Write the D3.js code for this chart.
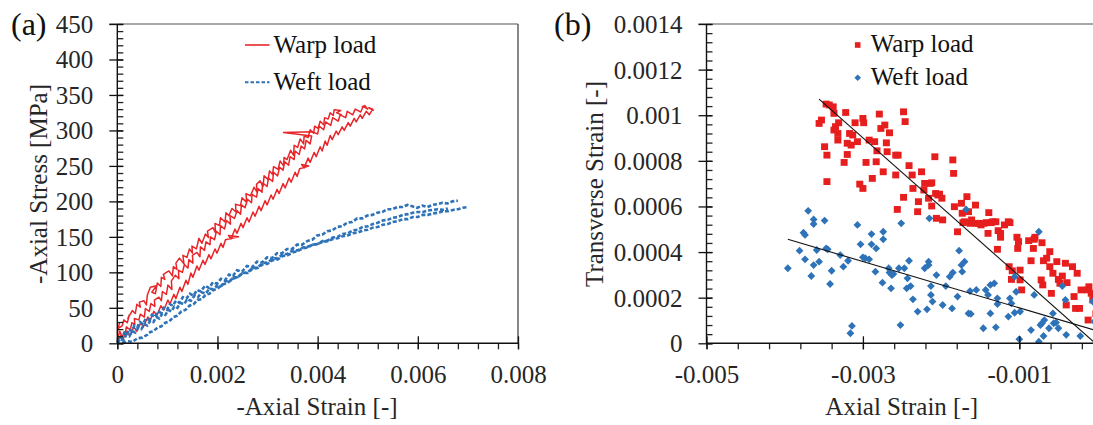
<!DOCTYPE html>
<html><head><meta charset="utf-8">
<script src="https://cdn.jsdelivr.net/npm/d3@7"></script>
<style>
html,body{margin:0;padding:0;background:#fff;}
svg{display:block;}
svg text{font-family:'Liberation Serif','Times New Roman',serif !important;}
</style></head><body>
<svg id="c" width="1093" height="425"></svg>
<script>
// ---------------- DATA ----------------
// Panel (a): -axial strain [-], -axial stress [MPa]
const warpCurve1 = [[0,14],[0.4e-4,28],[0.2e-4,21],[1.0e-4,25],[1.3e-4,33],[2.0e-4,29],[2.4e-4,40],[2.1e-4,35],[3.0e-4,46],[3.6e-4,42],[3.9e-4,55],[4.6e-4,51],[4.4e-4,58],[5.3e-4,60],[5.8e-4,54],[6.0e-4,68],[6.6e-4,79],[7.8e-4,81],[6.9e-4,72],[7.6e-4,70],[8.0e-4,85],[8.7e-4,80],[8.8e-4,93],[9.5e-4,90],[9.2e-4,97],[10.3e-4,102],[11.0e-4,95],[11.2e-4,108],[11.9e-4,104],[11.7e-4,113],[12.4e-4,120],[13.3e-4,112],[13.1e-4,124],[13.9e-4,121],[14.4e-4,133],[15.0e-4,127],[14.9e-4,137],[15.8e-4,133],[16.3e-4,148],[16.9e-4,141],[17.6e-4,154],[18.2e-4,149],[18.0e-4,158],[19.1e-4,163],[19.6e-4,156],[19.5e-4,169],[20.4e-4,166],[20.6e-4,177],[21.5e-4,171],[21.7e-4,184],[22.3e-4,180],[22.9e-4,190],[23.7e-4,185],[23.6e-4,196],[24.6e-4,194],[24.9e-4,205],[25.8e-4,199],[25.7e-4,211],[26.6e-4,208],[27.3e-4,220],[27.9e-4,213],[27.8e-4,224],[28.5e-4,229],[29.1e-4,221],[29.3e-4,236],[30.1e-4,231],[30.4e-4,243],[31.0e-4,238],[31.2e-4,249],[32.1e-4,245],[32.5e-4,257],[33.2e-4,250],[33.3e-4,262],[33.9e-4,259],[34.6e-4,272],[35.2e-4,265],[35.3e-4,279],[36.0e-4,276],[36.5e-4,288],[37.2e-4,281],[37.3e-4,292],[38.1e-4,290],[38.5e-4,301],[39.2e-4,296],[39.4e-4,306],[40.1e-4,303],[40.5e-4,313],[41.2e-4,308],[41.4e-4,318],[42.1e-4,316],[42.5e-4,325],[43.1e-4,321],[43.3e-4,329],[44.6e-4,328],[43.8e-4,325],[44.8e-4,322]];
const warpCurve2 = [[0,6],[0.5e-4,17],[0.9e-4,10],[1.6e-4,14],[1.8e-4,23],[2.6e-4,19],[2.9e-4,29],[3.5e-4,26],[3.4e-4,35],[4.3e-4,33],[4.6e-4,41],[5.4e-4,37],[5.6e-4,49],[6.4e-4,45],[6.7e-4,56],[7.5e-4,52],[7.4e-4,61],[8.3e-4,65],[8.8e-4,60],[9.0e-4,73],[9.8e-4,69],[10.1e-4,82],[10.9e-4,76],[10.8e-4,88],[11.6e-4,96],[12.3e-4,91],[12.2e-4,103],[13.0e-4,100],[13.4e-4,111],[14.1e-4,106],[14.3e-4,118],[15.1e-4,113],[15.0e-4,124],[15.9e-4,128],[16.5e-4,122],[16.6e-4,136],[17.4e-4,131],[17.7e-4,143],[18.5e-4,139],[18.6e-4,150],[19.4e-4,146],[19.8e-4,158],[20.5e-4,153],[20.6e-4,166],[21.4e-4,161],[21.8e-4,173],[22.6e-4,168],[22.5e-4,180],[23.4e-4,176],[23.9e-4,187],[24.6e-4,182],[24.8e-4,195],[25.5e-4,191],[26.0e-4,203],[26.8e-4,198],[26.9e-4,210],[27.8e-4,206],[28.1e-4,218],[28.9e-4,213],[29.0e-4,226],[29.9e-4,221],[30.2e-4,233],[31.0e-4,228],[31.2e-4,241],[32.0e-4,236],[32.4e-4,248],[33.1e-4,244],[33.4e-4,256],[34.2e-4,251],[34.5e-4,263],[35.3e-4,259],[35.5e-4,271],[36.3e-4,266],[36.7e-4,278],[37.4e-4,274],[37.7e-4,286],[38.5e-4,281],[38.8e-4,292],[33.2e-4,297],[39.0e-4,298],[40.0e-4,295],[40.3e-4,306],[41.2e-4,301],[41.6e-4,312],[42.6e-4,307],[43.0e-4,318],[44.1e-4,313],[44.5e-4,322],[45.6e-4,318],[45.9e-4,327],[47.0e-4,322],[47.5e-4,330],[48.6e-4,326],[49.1e-4,334],[50.0e-4,330],[49.4e-4,335],[48.8e-4,333]];
const warpCurve3 = [[0,3],[0.7e-4,11],[1.1e-4,5],[1.9e-4,17],[2.5e-4,11],[3.3e-4,23],[3.9e-4,17],[4.7e-4,29],[5.2e-4,23],[6.1e-4,37],[6.5e-4,31],[7.3e-4,45],[7.9e-4,39],[8.7e-4,53],[9.3e-4,47],[10.1e-4,61],[10.5e-4,55],[11.3e-4,69],[11.7e-4,63],[12.5e-4,79],[12.9e-4,73],[13.7e-4,89],[14.1e-4,83],[14.7e-4,99],[15.1e-4,93],[15.9e-4,109],[16.3e-4,103],[17.1e-4,117],[17.5e-4,111],[18.3e-4,125],[18.7e-4,119],[19.5e-4,133],[19.9e-4,127],[20.7e-4,141],[21.1e-4,135],[21.6e-4,146],[24.2e-4,150],[22.2e-4,152],[22.7e-4,147],[23.5e-4,161],[23.9e-4,155],[24.7e-4,169],[25.1e-4,163],[25.9e-4,177],[26.3e-4,171],[27.1e-4,185],[27.5e-4,179],[28.3e-4,193],[28.7e-4,187],[29.5e-4,201],[29.9e-4,195],[30.7e-4,209],[31.1e-4,203],[31.9e-4,217],[32.3e-4,211],[33.1e-4,225],[33.5e-4,219],[34.3e-4,233],[34.7e-4,227],[35.5e-4,241],[35.9e-4,235],[36.4e-4,246],[38.2e-4,250],[36.8e-4,252],[37.3e-4,247],[38.1e-4,261],[38.5e-4,255],[39.3e-4,269],[39.7e-4,263],[40.5e-4,277],[40.9e-4,271],[41.5e-4,285],[41.9e-4,279],[42.5e-4,293],[42.9e-4,287],[43.7e-4,299],[44.1e-4,294],[44.9e-4,305],[45.3e-4,300],[46.1e-4,311],[46.5e-4,306],[47.3e-4,317],[47.7e-4,312],[48.5e-4,322],[48.9e-4,317],[49.7e-4,327],[50.3e-4,322],[51.0e-4,330],[50.2e-4,332],[51.2e-4,328]];
const weftCurve1 = [[0,2],[0.4e-4,9],[0.9e-4,7],[1.4e-4,15],[1.9e-4,12],[2.4e-4,20],[2.9e-4,17],[3.4e-4,25],[4e-4,23],[4.5e-4,30],[5.1e-4,27],[5.7e-4,35],[6.3e-4,33],[6.9e-4,40],[7.5e-4,37],[8.1e-4,45],[8.7e-4,43],[9.3e-4,50],[9.9e-4,47],[10.5e-4,55],[11.1e-4,53],[11.7e-4,60],[12.4e-4,57],[13.1e-4,65],[13.8e-4,63],[14.5e-4,70],[15.2e-4,67],[15.9e-4,75],[16.7e-4,73],[17.5e-4,81],[18.3e-4,78],[19.1e-4,86],[19.9e-4,84],[20.7e-4,91],[21.5e-4,89],[22.3e-4,97],[23.1e-4,95],[23.9e-4,103],[24.9e-4,101],[25.9e-4,109],[26.9e-4,107],[27.9e-4,115],[28.9e-4,114],[29.9e-4,121],[30.9e-4,120],[31.9e-4,127],[32.9e-4,127],[33.9e-4,133],[34.9e-4,133],[35.9e-4,139],[36.9e-4,139],[37.9e-4,144],[38.9e-4,146],[39.9e-4,152],[40.9e-4,153],[41.9e-4,158],[42.9e-4,159],[43.9e-4,164],[44.9e-4,165],[45.9e-4,170],[46.9e-4,171],[47.9e-4,176],[48.9e-4,176],[49.9e-4,180],[50.9e-4,181],[51.9e-4,184],[52.9e-4,185],[53.9e-4,189],[54.9e-4,189],[55.9e-4,192],[56.9e-4,192],[57.9e-4,195],[58.9e-4,193],[59.9e-4,191],[60.9e-4,194],[61.9e-4,192],[62.9e-4,195],[63.9e-4,196],[64.9e-4,198],[65.9e-4,197],[66.9e-4,200],[68e-4,201]];
const weftCurve2 = [[0,0],[0.6e-4,6],[1.2e-4,4],[1.8e-4,12],[2.4e-4,10],[3e-4,17],[3.6e-4,15],[4.2e-4,22],[4.8e-4,20],[5.4e-4,27],[6e-4,25],[6.6e-4,32],[7.2e-4,30],[7.8e-4,37],[8.4e-4,35],[9e-4,42],[9.6e-4,40],[10.2e-4,47],[10.8e-4,45],[11.4e-4,52],[12e-4,50],[12.6e-4,57],[13.3e-4,55],[14e-4,62],[14.7e-4,60],[15.4e-4,67],[16.1e-4,65],[16.8e-4,72],[17.6e-4,70],[18.4e-4,77],[19.2e-4,76],[20e-4,82],[20.8e-4,81],[21.6e-4,88],[22.4e-4,87],[23.2e-4,93],[24e-4,93],[25e-4,99],[26e-4,99],[27e-4,105],[28e-4,106],[29e-4,111],[30e-4,112],[31e-4,117],[32e-4,118],[33e-4,123],[34e-4,124],[35e-4,128],[36e-4,130],[37e-4,134],[38e-4,135],[39e-4,139],[40e-4,140],[41e-4,144],[42e-4,145],[43e-4,149],[44e-4,150],[45e-4,154],[46e-4,155],[47e-4,159],[48e-4,160],[49e-4,164],[50e-4,165],[51e-4,168],[52e-4,170],[53e-4,173],[54e-4,174],[55e-4,177],[56e-4,178],[57e-4,181],[58e-4,182],[59e-4,184],[60e-4,185],[61e-4,185],[62e-4,187],[63e-4,188],[64e-4,189],[65e-4,188],[66e-4,190]];
const weftCurve3 = [[1e-4,0],[2e-4,3],[3e-4,2],[4e-4,7],[5e-4,8],[6e-4,12],[6.6e-4,16],[7.2e-4,17],[8e-4,22],[8.8e-4,24],[9.6e-4,29],[10.4e-4,31],[11.2e-4,37],[12e-4,39],[12.8e-4,45],[13.6e-4,47],[14.4e-4,53],[15.2e-4,55],[16e-4,61],[16.8e-4,62],[17.6e-4,68],[18.4e-4,70],[19.2e-4,75],[20e-4,77],[21e-4,83],[22e-4,85],[23e-4,91],[24e-4,93],[25e-4,99],[26e-4,100],[27e-4,106],[28e-4,107],[29e-4,113],[30e-4,114],[31e-4,119],[32e-4,120],[33e-4,125],[34e-4,126],[35e-4,131],[36e-4,131],[37e-4,135],[38e-4,136],[39e-4,139],[40e-4,140],[41e-4,143],[42e-4,144],[43e-4,147],[44e-4,148],[45e-4,151],[46e-4,152],[47e-4,155],[48e-4,156],[49e-4,159],[50e-4,160],[51e-4,163],[52e-4,164],[53e-4,167],[54e-4,168],[55e-4,171],[56e-4,172],[57e-4,175],[58e-4,175],[59e-4,178],[60e-4,178],[61e-4,181],[62e-4,181],[63e-4,183],[64e-4,184],[65e-4,186],[66e-4,186],[67e-4,188],[68e-4,189],[69e-4,191],[70e-4,192]];

// Panel (b): axial strain [-], transverse strain [-]
const warpPoints = [[-35.6e-4,96.4e-5],[-35.3e-4,97.9e-5],[-34.9e-4,86.2e-5],[-34.6e-4,82.5e-5],[-34.6e-4,70.9e-5],[-34.7e-4,104.9e-5],[-34.3e-4,104.5e-5],[-33.8e-4,103.7e-5],[-33.7e-4,100.8e-5],[-33.7e-4,93.5e-5],[-33.5e-4,95.0e-5],[-33.2e-4,92.0e-5],[-33.2e-4,89.1e-5],[-33.1e-4,96.7e-5],[-32.4e-4,79.3e-5],[-32.2e-4,101.2e-5],[-32.0e-4,87.7e-5],[-32.0e-4,82.8e-5],[-31.7e-4,92.0e-5],[-31.5e-4,86.9e-5],[-31.3e-4,91.3e-5],[-31.0e-4,96.7e-5],[-30.7e-4,88.4e-5],[-30.4e-4,69.8e-5],[-30.0e-4,98.6e-5],[-30.0e-4,67.9e-5],[-29.9e-4,96.7e-5],[-29.6e-4,79.3e-5],[-29.2e-4,89.1e-5],[-28.8e-4,72.3e-5],[-28.5e-4,88.4e-5],[-28.3e-4,79.6e-5],[-28.2e-4,84.4e-5],[-27.9e-4,100.5e-5],[-27.7e-4,94.2e-5],[-27.4e-4,75.2e-5],[-27.2e-4,95.7e-5],[-27.0e-4,87.9e-5],[-26.9e-4,84.0e-5],[-26.6e-4,92.3e-5],[-25.8e-4,73.8e-5],[-25.8e-4,82.5e-5],[-25.5e-4,82.5e-5],[-25.6e-4,58.7e-5],[-24.8e-4,64.0e-5],[-24.8e-4,101.5e-5],[-24.6e-4,97.2e-5],[-24.1e-4,77.9e-5],[-23.7e-4,73.8e-5],[-23.6e-4,67.9e-5],[-23.0e-4,57.7e-5],[-22.9e-4,62.1e-5],[-22.5e-4,75.2e-5],[-22.2e-4,67.2e-5],[-22.1e-4,70.1e-5],[-21.6e-4,63.6e-5],[-21.4e-4,70.1e-5],[-21.2e-4,70.4e-5],[-21.2e-4,60.2e-5],[-20.8e-4,81.8e-5],[-20.7e-4,65.7e-5],[-20.6e-4,54.8e-5],[-20.4e-4,65.0e-5],[-20.2e-4,65.4e-5],[-19.9e-4,63.6e-5],[-19.8e-4,54.1e-5],[-18.5e-4,80.4e-5],[-18.4e-4,74.5e-5],[-18.3e-4,59.9e-5],[-17.9e-4,48.9e-5],[-17.4e-4,61.4e-5],[-17.3e-4,57.0e-5],[-17.2e-4,52.9e-5],[-17.0e-4,53.3e-5],[-16.7e-4,64.3e-5],[-16.5e-4,57.7e-5],[-16.3e-4,52.6e-5],[-16.1e-4,54.1e-5],[-15.6e-4,60.6e-5],[-15.5e-4,52.6e-5],[-15.2e-4,52.6e-5],[-14.9e-4,51.9e-5],[-14.5e-4,52.6e-5],[-14.2e-4,52.9e-5],[-13.9e-4,57.3e-5],[-14.0e-4,48.2e-5],[-13.6e-4,52.9e-5],[-13.4e-4,53.3e-5],[-13.0e-4,53.3e-5],[-12.8e-4,41.2e-5],[-12.7e-4,49.4e-5],[-12.4e-4,48.2e-5],[-12.4e-4,46.5e-5],[-11.9e-4,51.9e-5],[-11.4e-4,53.3e-5],[-11.3e-4,33.6e-5],[-11.2e-4,52.9e-5],[-11.0e-4,28.0e-5],[-10.9e-4,31.8e-5],[-10.3e-4,46.5e-5],[-10.2e-4,41.6e-5],[-9.9e-4,32.1e-5],[-9.9e-4,27.8e-5],[-9.7e-4,23.4e-5],[-10.1e-4,44.6e-5],[-8.8e-4,45.0e-5],[-8.5e-4,36.2e-5],[-8.1e-4,45.6e-5],[-8.2e-4,41.6e-5],[-8.0e-4,46.5e-5],[-7.1e-4,44.1e-5],[-7.2e-4,27.8e-5],[-7.0e-4,25.6e-5],[-6.9e-4,36.2e-5],[-6.5e-4,37.3e-5],[-6.1e-4,40.2e-5],[-6.1e-4,33.6e-5],[-5.9e-4,21.9e-5],[-5.7e-4,30.7e-5],[-5.2e-4,35.8e-5],[-5.0e-4,28.0e-5],[-4.8e-4,26.3e-5],[-4.5e-4,29.5e-5],[-4.1e-4,35.1e-5],[-4.0e-4,16.8e-5],[-3.9e-4,26.6e-5],[-3.2e-4,33.6e-5],[-3.0e-4,20.5e-5],[-2.8e-4,15.3e-5],[-2.6e-4,30.7e-5],[-2.3e-4,15.3e-5],[-2.1e-4,23.4e-5],[-1.3e-4,23.4e-5],[-1.2e-4,10.2e-5],[-1.1e-4,24.8e-5],[-0.8e-4,21.9e-5],[-0.6e-4,19.0e-5],[-0.4e-4,20.5e-5],[-0.2e-4,13.0e-5]];
const weftPoints = [[-39.6e-4,32.9e-5],[-38.1e-4,40.6e-5],[-37.6e-4,48.5e-5],[-37.4e-4,47.5e-5],[-37.4e-4,36.8e-5],[-37.0e-4,58.1e-5],[-36.6e-4,29.5e-5],[-36.3e-4,54.3e-5],[-36.3e-4,52.3e-5],[-36.3e-4,34.3e-5],[-35.9e-4,40.9e-5],[-35.6e-4,35.8e-5],[-34.9e-4,53.8e-5],[-34.7e-4,41.6e-5],[-34.5e-4,41.2e-5],[-34.2e-4,26.0e-5],[-34.0e-4,31.8e-5],[-32.9e-4,38.7e-5],[-32.5e-4,33.6e-5],[-31.9e-4,36.2e-5],[-31.6e-4,4.4e-5],[-31.4e-4,7.6e-5],[-30.7e-4,51.9e-5],[-30.3e-4,43.4e-5],[-30.0e-4,37.7e-5],[-29.7e-4,37.3e-5],[-29.2e-4,36.8e-5],[-28.9e-4,47.9e-5],[-28.9e-4,43.4e-5],[-28.4e-4,31.4e-5],[-28.3e-4,41.6e-5],[-27.5e-4,26.6e-5],[-27.4e-4,45.6e-5],[-27.4e-4,48.9e-5],[-26.7e-4,32.9e-5],[-26.6e-4,31.0e-5],[-26.4e-4,24.1e-5],[-26.3e-4,29.9e-5],[-26.1e-4,30.4e-5],[-25.4e-4,32.9e-5],[-25.2e-4,8.0e-5],[-25.1e-4,52.6e-5],[-24.7e-4,32.9e-5],[-24.4e-4,24.1e-5],[-24.3e-4,28.5e-5],[-24.1e-4,36.2e-5],[-23.9e-4,25.1e-5],[-23.6e-4,19.3e-5],[-23.0e-4,13.9e-5],[-22.1e-4,32.9e-5],[-21.8e-4,14.9e-5],[-21.6e-4,35.8e-5],[-21.6e-4,34.3e-5],[-21.5e-4,54.8e-5],[-21.3e-4,25.1e-5],[-21.3e-4,21.2e-5],[-21.1e-4,18.3e-5],[-20.6e-4,29.9e-5],[-19.8e-4,16.8e-5],[-19.4e-4,25.1e-5],[-18.9e-4,29.2e-5],[-18.6e-4,15.3e-5],[-18.5e-4,31.0e-5],[-17.9e-4,20.5e-5],[-17.7e-4,40.6e-5],[-17.4e-4,34.3e-5],[-17.3e-4,31.4e-5],[-17.0e-4,35.8e-5],[-16.8e-4,58.7e-5],[-16.5e-4,13.1e-5],[-16.3e-4,22.9e-5],[-16.2e-4,12.9e-5],[-15.5e-4,23.4e-5],[-14.6e-4,6.6e-5],[-14.3e-4,23.4e-5],[-14.0e-4,21.2e-5],[-13.7e-4,25.6e-5],[-13.7e-4,13.1e-5],[-13.2e-4,26.3e-5],[-13.0e-4,7.0e-5],[-12.8e-4,19.7e-5],[-12.8e-4,17.2e-5],[-11.4e-4,11.7e-5],[-11.2e-4,19.7e-5],[-11.0e-4,17.5e-5],[-10.6e-4,29.2e-5],[-10.6e-4,13.4e-5],[-10.4e-4,22.6e-5],[-10.0e-4,1.8e-5],[-9.9e-4,13.9e-5],[-8.5e-4,5.8e-5],[-8.1e-4,21.2e-5],[-7.5e-4,48.9e-5],[-7.5e-4,0.7e-5],[-7.3e-4,8.0e-5],[-7.1e-4,8.8e-5],[-6.9e-4,3.2e-5],[-6.8e-4,10.2e-5],[-6.2e-4,6.6e-5],[-5.7e-4,13.1e-5],[-5.6e-4,8.8e-5],[-5.3e-4,9.1e-5],[-5.0e-4,6.6e-5],[-4.5e-4,25.1e-5],[-4.1e-4,19.0e-5],[-4.0e-4,3.7e-5],[-2.2e-4,3.2e-5],[-0.6e-4,18.3e-5],[-0.4e-4,9.5e-5]];
// Linear trend lines (transverse = slope * axial + intercept) and their axial extents
const warpTrend = {slope:-0.303, intercept:-0.8e-5, from:-35.6e-4, to:0};
const weftTrend = {slope:-0.1015, intercept:5.4e-5, from:-39.6e-4, to:0};

// Tick values / labels
const aXTicks = [0,0.002,0.004,0.006,0.008];
const aXTickLabels = ["0","0.002","0.004","0.006","0.008"];
const aYTicks = [0,50,100,150,200,250,300,350,400,450];
const aYTickLabels = ["0","50","100","150","200","250","300","350","400","450"];
const bXTicks = [-0.005,-0.003,-0.001];
const bXTickLabels = ["-0.005","-0.003","-0.001"];
const bYTicks = [0,0.0002,0.0004,0.0006,0.0008,0.001,0.0012,0.0014];
const bYTickLabels = ["0","0.0002","0.0004","0.0006","0.0008","0.001","0.0012","0.0014"];
const legendLabels = ["Warp load","Weft load"];

// ---------------- DRAW ----------------
const svg = d3.select("#c");
const TXT = "#262626", RED = "#e8262a", BLUE = "#2e72b8", FS = 25;

function frame(sx, sy, box, xMajor, xMajorLbl, xMinorStep, yMajor, yMajorLbl, yMinorStep) {
  const g = svg.append("g");
  g.append("line").attr("x1", box.left - 8).attr("x2", Math.min(box.right, 1093)).attr("y1", box.top).attr("y2", box.top)
    .attr("stroke", "#8a8a8a").attr("stroke-width", 1.6);
  if (box.right < 1093) {
    g.append("line").attr("x1", box.right).attr("x2", box.right).attr("y1", box.top).attr("y2", box.bottom)
      .attr("stroke", "#555").attr("stroke-width", 1.4);
  }
  const [x0, x1] = sx.domain(), [y0, y1] = sy.domain();
  const xMinor = d3.range(x0, x1 + 1e-12, xMinorStep).filter(v => sx(v) <= 1093);
  const yMinor = d3.range(y0, y1 + 1e-12, yMinorStep);
  g.append("g").attr("transform", `translate(0,${box.bottom})`)
    .call(d3.axisBottom(sx).tickValues(xMinor).tickSize(6).tickFormat(""))
    .call(a => a.select(".domain").remove())
    .call(a => a.selectAll("line").attr("stroke", "#222").attr("stroke-width", 1.3));
  g.append("g").attr("transform", `translate(${box.left},0)`)
    .call(d3.axisRight(sy).tickValues(yMinor).tickSize(6).tickFormat(""))
    .call(a => a.select(".domain").remove())
    .call(a => a.selectAll("line").attr("stroke", "#222").attr("stroke-width", 1.3));
  const gx = g.append("g").attr("transform", `translate(0,${box.bottom})`)
    .call(d3.axisBottom(sx).tickValues(xMajor).tickSize(6).tickFormat((d, i) => xMajorLbl[i]));
  gx.attr("font-family", null).attr("font-size", null);
  gx.select(".domain").attr("d", `M${box.left},0H${Math.min(box.right,1093)}`).attr("stroke", "#111").attr("stroke-width", 1.4);
  gx.selectAll(".tick line").attr("y1", -7).attr("y2", 6).attr("stroke", "#111").attr("stroke-width", 1.3);
  gx.selectAll(".tick text").attr("y", 39.5).attr("dy", null).attr("fill", TXT).attr("font-size", FS);
  const gy = g.append("g").attr("transform", `translate(${box.left},0)`)
    .call(d3.axisLeft(sy).tickValues(yMajor).tickSize(8).tickFormat((d, i) => yMajorLbl[i]));
  gy.attr("font-family", null).attr("font-size", null);
  gy.select(".domain").attr("d", `M0,${box.bottom}V${box.top}`).attr("stroke", "#111").attr("stroke-width", 1.4);
  gy.selectAll(".tick line").attr("x1", 6).attr("x2", -8).attr("stroke", "#111").attr("stroke-width", 1.3);
  gy.selectAll(".tick text").attr("x", -24).attr("dy", "0.34em").attr("fill", TXT).attr("font-size", FS);
}

// ---- Panel (a)
const A = {left: 117.3, right: 518, top: 24, bottom: 343.3};
const xa = d3.scaleLinear().domain([0, 0.008]).range([A.left, A.right]);
const ya = d3.scaleLinear().domain([0, 450]).range([A.bottom, A.top]);
const lineA = d3.line().x(d => xa(d[0])).y(d => ya(d[1]));
const pa = svg.append("g");
[warpCurve1, warpCurve2, warpCurve3].forEach(c => {
  pa.append("path").attr("d", lineA(c)).attr("fill", "none").attr("stroke", RED)
    .attr("stroke-width", 1.5).attr("stroke-linejoin", "round");
});
[weftCurve1, weftCurve2, weftCurve3].forEach(c => {
  pa.append("path").attr("d", lineA(c)).attr("fill", "none").attr("stroke", BLUE)
    .attr("stroke-width", 2.6).attr("stroke-dasharray", "4,2");
});
frame(xa, ya, A, aXTicks, aXTickLabels, 0.0004, aYTicks, aYTickLabels, 10);

const legA = svg.append("g");
legA.append("line").attr("x1", 245).attr("x2", 269.5).attr("y1", 45).attr("y2", 45).attr("stroke", RED).attr("stroke-width", 1.6);
legA.append("line").attr("x1", 245).attr("x2", 269.5).attr("y1", 82.3).attr("y2", 82.3).attr("stroke", BLUE).attr("stroke-width", 2).attr("stroke-dasharray", "3.5,2");
legA.append("text").attr("x", 273.5).attr("y", 52.7).text(legendLabels[0]);
legA.append("text").attr("x", 273.5).attr("y", 90).text(legendLabels[1]);
legA.selectAll("text").attr("fill", "#111").attr("font-size", FS);

svg.append("text").attr("x", 317).attr("y", 415).attr("text-anchor", "middle").attr("fill", TXT)
  .attr("font-size", FS).text("-Axial Strain [-]");
svg.append("text").attr("transform", "translate(47,184) rotate(-90)").attr("text-anchor", "middle").attr("fill", TXT)
  .attr("font-size", FS).text("-Axial Stress [MPa]");
svg.append("text").attr("x", 11).attr("y", 35).attr("fill", "#111").attr("font-size", 32).text("(a)");

// ---- Panel (b)
const B = {left: 706.5, right: 706.5 + 5 * 78.2, top: 24, bottom: 343.3};
const xb = d3.scaleLinear().domain([-0.005, 0]).range([B.left, B.right]);
const yb = d3.scaleLinear().domain([0, 0.0014]).range([B.bottom, B.top]);
svg.append("clipPath").attr("id", "clipB").append("rect")
  .attr("x", B.left).attr("y", B.top).attr("width", B.right - B.left).attr("height", B.bottom - B.top);
const pb = svg.append("g").attr("clip-path", "url(#clipB)");
pb.selectAll("rect.w").data(warpPoints).join("rect").attr("class", "w")
  .attr("x", d => xb(d[0]) - 3.5).attr("y", d => yb(d[1]) - 3.4).attr("width", 7).attr("height", 6.8).attr("fill", "#e61e1e");
const dia = r => `M0,${-r}L${r},0L0,${r}L${-r},0Z`;
pb.selectAll("path.f").data(weftPoints).join("path").attr("class", "f")
  .attr("d", dia(3.9)).attr("transform", d => `translate(${xb(d[0])},${yb(d[1])})`).attr("fill", BLUE);
[warpTrend, weftTrend].forEach(t => {
  const pts = [[t.from, t.slope * t.from + t.intercept], [t.to, t.slope * t.to + t.intercept]];
  pb.append("path").attr("d", d3.line().x(d => xb(d[0])).y(d => yb(d[1]))(pts))
    .attr("stroke", "#111").attr("stroke-width", 1.1).attr("fill", "none");
});
frame(xb, yb, B, bXTicks, bXTickLabels, 0.0004, bYTicks, bYTickLabels, 0.00004);

const legB = svg.append("g");
legB.append("rect").attr("x", 857.7 - 2.8).attr("y", 45 - 2.8).attr("width", 5.6).attr("height", 5.6).attr("fill", "#e61e1e");
legB.append("path").attr("d", dia(3.3)).attr("transform", "translate(857.7,77.7)").attr("fill", BLUE);
legB.append("text").attr("x", 870.7).attr("y", 51.7).text(legendLabels[0]);
legB.append("text").attr("x", 870.7).attr("y", 85).text(legendLabels[1]);
legB.selectAll("text").attr("fill", "#111").attr("font-size", FS);

svg.append("text").attr("x", 901.7).attr("y", 415).attr("text-anchor", "middle").attr("fill", TXT)
  .attr("font-size", FS).text("Axial Strain [-]");
svg.append("text").attr("transform", "translate(602.5,184) rotate(-90)").attr("text-anchor", "middle").attr("fill", TXT)
  .attr("font-size", FS).text("Transverse Strain [-]");
svg.append("text").attr("x", 554).attr("y", 35).attr("fill", "#111").attr("font-size", 32).text("(b)");
</script>
</body></html>
